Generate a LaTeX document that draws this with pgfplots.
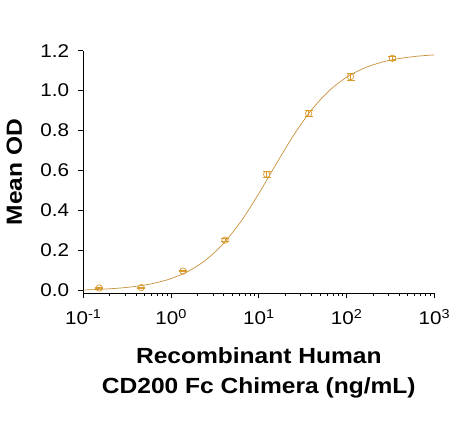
\documentclass[border=0pt]{standalone}
\usepackage{fontspec}
\setmainfont{Liberation Sans}[FakeStretch=1.12]
\usepackage{pgfplots}
\pgfplotsset{compat=1.18}
\definecolor{ptc}{HTML}{DB9A2C}
\definecolor{crv}{HTML}{C8913A}

% mean OD, one row per dilution
\pgfplotstableread{
x     y      err
0.152 0.010  0.004
0.457 0.012  0.002
1.37  0.095  0.003
4.12  0.250  0.008
12.3  0.580  0.014
37.0  0.885  0.014
111   1.070  0.018
333   1.162  0.010
}\means

% fitted curve
\pgfplotstableread{
x        y
0.1      0.0002
0.1585   0.0036
0.2512   0.0092
0.3981   0.0183
0.6310   0.0333
1.0      0.0572
1.585    0.0948
2.512    0.1519
3.981    0.2346
6.310    0.3462
10.0     0.4832
15.85    0.6333
25.12    0.7783
39.81    0.9025
63.10    0.9984
100      1.0668
158.5    1.1126
251.2    1.1421
398.1    1.1607
631.0    1.1722
1000     1.1791
}\fit

\begin{document}
\begin{tikzpicture}
\begin{axis}[
    scale only axis,
    width=351bp, height=242.6bp,
    xmode=log,
    xmin=0.1, xmax=1000,
    ymin=-0.0165, ymax=1.2,
    axis x line*=bottom, axis y line*=left,
    axis line style={line width=0.8bp},
    tick style={black, line width=0.8bp},
    tick align=outside,
    major tick length=5bp, minor tick length=2.5bp,
    xtick={0.1,1,10,100,1000},
    xticklabels={10\textsuperscript{-1},10\textsuperscript{0},10\textsuperscript{1},10\textsuperscript{2},10\textsuperscript{3}},
    ytick={0,0.2,...,1.2},
    /pgf/number format/fixed,
    /pgf/number format/fixed zerofill,
    /pgf/number format/precision=1,
    /pgf/number format/assume math mode=true,
    tick label style={font=\fontsize{18.5}{20}\selectfont},
    xticklabel style={anchor=north, inner sep=0pt, yshift=-11bp},
    yticklabel style={anchor=east, inner sep=0pt, xshift=-9bp},
    xlabel={Recombinant Human\\CD200 Fc Chimera (ng/mL)},
    xlabel style={at={(axis description cs:0.5,0)}, anchor=north, inner sep=0pt, yshift=-54bp,
        align=center, font=\bfseries\fontsize{22}{30}\selectfont},
    ylabel={Mean OD},
    ylabel style={at={(axis description cs:0,0.5)}, anchor=south, inner sep=0pt, yshift=61bp,
        font=\bfseries\fontsize{22}{24}\selectfont},
    clip=false,
]
\addplot[crv, line width=0.7bp, smooth, no marks] table[x=x, y=y] {\fit};
\addplot[ptc, only marks, mark=o, mark size=3.2bp, line width=0.7bp,
    error bars/.cd, y dir=both, y explicit,
    error bar style={line width=0.7bp},
    error mark options={rotate=90, mark size=4bp, line width=0.7bp}]
    table[x=x, y=y, y error=err] {\means};
\end{axis}
\path ([shift={(-83.3bp,-127.7bp)}]current axis.south west)
    rectangle ([shift={(373.7bp,293.3bp)}]current axis.south west);
\end{tikzpicture}
\end{document}
